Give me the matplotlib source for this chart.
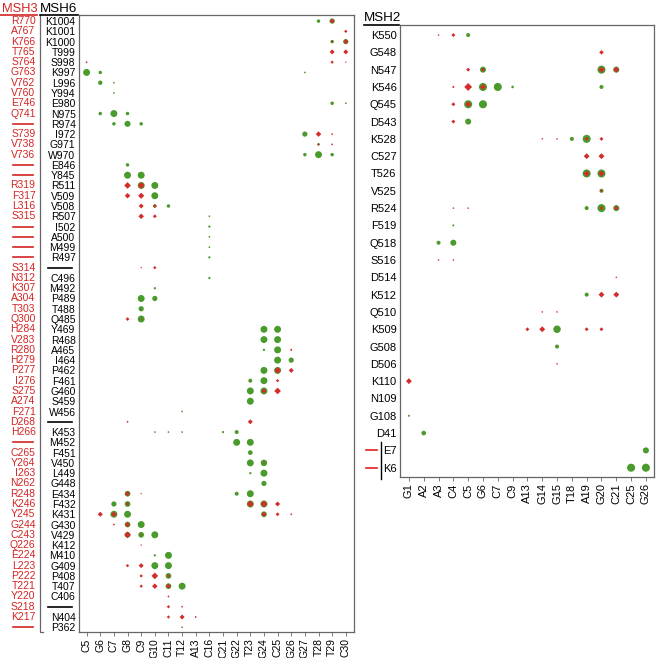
import numpy as np
import matplotlib.pyplot as plt
import matplotlib.transforms as mtransforms

plt.rcParams['font.family'] = ['Liberation Sans', 'DejaVu Sans']

# left panel: MSH6 residues (black) and matching MSH3 residues (red); '—' = no residue
msh6_labels = ['K1004', 'K1001', 'K1000', 'T999', 'S998', 'K997', 'L996', 'Y994', 'E980', 'N975',
               'R974', 'I972', 'G971', 'W970', 'E846', 'Y845', 'R511', 'V509', 'V508', 'R507',
               'I502', 'A500', 'M499', 'R497', '—', 'C496', 'M492', 'P489', 'T488', 'Q485',
               'Y469', 'R468', 'A465', 'I464', 'P462', 'F461', 'G460', 'S459', 'W456', '—',
               'K453', 'M452', 'F451', 'V450', 'L449', 'G448', 'E434', 'F432', 'K431', 'G430',
               'V429', 'K412', 'M410', 'G409', 'P408', 'T407', 'C406', '—', 'N404', 'P362']
msh3_labels = ['R770', 'A767', 'K766', 'T765', 'S764', 'G763', 'V762', 'V760', 'E746', 'Q741',
               '—', 'S739', 'V738', 'V736', '—', '—', 'R319', 'F317', 'L316', 'S315',
               '—', '—', '—', '—', 'S314', 'N312', 'K307', 'A304', 'T303', 'Q300',
               'H284', 'V283', 'R280', 'H279', 'P277', 'I276', 'S275', 'A274', 'F271', 'D268',
               'H266', '—', 'C265', 'Y264', 'I263', 'N262', 'R248', 'K246', 'Y245', 'G244',
               'C243', 'Q226', 'E224', 'L223', 'P222', 'T221', 'Y220', 'S218', 'K217', '—']
left_cols = ['C5', 'G6', 'C7', 'G8', 'C9', 'G10', 'C11', 'T12', 'A13', 'C16',
             'C21', 'G22', 'T23', 'G24', 'C25', 'G26', 'G27', 'T28', 'T29', 'C30']

# (row from top, column, size level 1-4)
left_green = [
    (1, 'T28', 2), (1, 'T29', 3), (3, 'T29', 2), (3, 'C30', 3),
    (6, 'C5', 4), (6, 'G6', 2), (6, 'G27', 1), (7, 'G6', 2.5), (7, 'C7', 1), (8, 'C7', 1),
    (9, 'T29', 2), (9, 'C30', 1), (10, 'G6', 2), (10, 'C7', 4), (10, 'G8', 2),
    (11, 'C7', 2), (11, 'G8', 3.5), (11, 'C9', 2), (12, 'G27', 3), (13, 'T28', 1.5),
    (14, 'G27', 2), (14, 'T28', 4), (14, 'T29', 2), (15, 'G8', 2), (16, 'G8', 4), (16, 'C9', 4),
    (17, 'C9', 4), (17, 'G10', 4), (18, 'G10', 4), (19, 'G10', 2), (19, 'C11', 2),
    (20, 'C16', 1), (21, 'C16', 1.3), (22, 'C16', 1), (23, 'C16', 1), (24, 'C16', 1.3), (26, 'C16', 1.3),
    (27, 'G10', 1.3), (28, 'C9', 4), (28, 'G10', 3), (29, 'C9', 3), (30, 'C9', 4),
    (31, 'G24', 4), (31, 'C25', 4), (32, 'G24', 4), (32, 'C25', 4), (33, 'G24', 1.3), (33, 'C25', 4),
    (34, 'C25', 4), (34, 'G26', 3), (35, 'G24', 4), (35, 'C25', 4), (36, 'T23', 2.3), (36, 'G24', 4),
    (37, 'T23', 4), (37, 'G24', 4), (38, 'T23', 4), (39, 'T12', 1),
    (41, 'G10', 1), (41, 'C11', 1), (41, 'T12', 1), (41, 'C21', 1.3), (41, 'G22', 2.3),
    (42, 'G22', 4), (42, 'T23', 4), (43, 'T23', 2.7), (44, 'T23', 4), (44, 'G24', 3.7),
    (45, 'T23', 1.3), (45, 'G24', 4), (46, 'G24', 3),
    (47, 'G8', 3.3), (47, 'G22', 2.3), (47, 'T23', 4),
    (48, 'C7', 3), (48, 'G8', 3.3), (48, 'T23', 4), (48, 'G24', 4),
    (49, 'C7', 4), (49, 'G8', 4), (49, 'G24', 3.3), (50, 'G8', 3.3), (50, 'C9', 4),
    (51, 'G8', 3.3), (51, 'C9', 3.3), (51, 'G10', 4), (53, 'G10', 1.3), (53, 'C11', 4),
    (54, 'G10', 4), (54, 'C11', 4), (55, 'C11', 3.3), (56, 'C11', 3.3), (56, 'T12', 4),
    (60, 'T12', 1),
]
left_red = [
    (1, 'T29', 3), (2, 'C30', 2), (3, 'T29', 1.5), (3, 'C30', 3), (4, 'T29', 3), (4, 'C30', 3),
    (5, 'C5', 1.3), (5, 'T29', 2), (5, 'C30', 1), (12, 'T28', 3.3), (12, 'T29', 1.3),
    (13, 'T28', 1.5), (13, 'T29', 1.3), (17, 'G8', 4), (17, 'C9', 4), (18, 'G8', 3.3), (18, 'C9', 3.7),
    (19, 'C9', 3), (19, 'G10', 2.3), (20, 'C9', 3.3), (20, 'G10', 2.3), (25, 'C9', 1), (25, 'G10', 2),
    (30, 'G8', 2.3), (30, 'C9', 1), (33, 'G26', 1.5), (35, 'C25', 4), (35, 'G26', 3),
    (36, 'C25', 2), (37, 'G24', 3), (37, 'C25', 4), (40, 'G8', 1.3), (40, 'T23', 3),
    (44, 'G24', 1), (47, 'G8', 3), (47, 'C9', 1), (48, 'G8', 2), (48, 'T23', 4), (48, 'G24', 4),
    (48, 'C25', 3), (49, 'G6', 3), (49, 'C7', 3.3), (49, 'G24', 3), (49, 'C25', 2.3), (49, 'G26', 1.3),
    (50, 'C7', 1.3), (50, 'G8', 3), (51, 'G8', 4), (51, 'C9', 1), (52, 'C9', 1),
    (54, 'G8', 2), (54, 'C9', 3), (55, 'C9', 2), (55, 'G10', 4), (55, 'C11', 2),
    (56, 'C9', 2), (56, 'G10', 3.3), (56, 'C11', 3), (57, 'C11', 1.3), (58, 'C11', 2), (58, 'T12', 1.3),
    (59, 'C11', 2), (59, 'T12', 3), (59, 'A13', 1.3),
]

# right panel: MSH2
msh2_labels = ['K550', 'G548', 'N547', 'K546', 'Q545', 'D543', 'K528', 'C527', 'T526', 'V525',
               'R524', 'F519', 'Q518', 'S516', 'D514', 'K512', 'Q510', 'K509', 'G508', 'D506',
               'K110', 'N109', 'G108', 'D41', 'E7', 'K6']
right_cols = ['G1', 'A2', 'A3', 'C4', 'C5', 'G6', 'C7', 'C9', 'A13', 'G14',
              'G15', 'T18', 'A19', 'G20', 'C21', 'C25', 'G26']
right_green = [
    (1, 'C5', 2), (3, 'G6', 3), (3, 'G20', 4), (3, 'C21', 3),
    (4, 'G6', 4), (4, 'C7', 4), (4, 'C9', 1.3), (4, 'G20', 2), (5, 'C5', 4), (5, 'G6', 4),
    (6, 'C5', 3), (7, 'T18', 2), (7, 'A19', 4), (9, 'A19', 4), (9, 'G20', 4), (10, 'G20', 2),
    (11, 'A19', 2), (11, 'G20', 4), (11, 'C21', 3), (12, 'C4', 1), (13, 'A3', 2), (13, 'C4', 3),
    (16, 'A19', 2), (18, 'G15', 3.7), (19, 'G15', 2), (23, 'G1', 1), (24, 'A2', 2.3),
    (25, 'G26', 3), (26, 'C25', 4), (26, 'G26', 4),
]
right_red = [
    (1, 'A3', 1), (1, 'C4', 2), (2, 'G20', 2.3), (3, 'C5', 2), (3, 'G6', 2), (3, 'G20', 3), (3, 'C21', 3),
    (4, 'C4', 1.3), (4, 'C5', 4), (4, 'G6', 3), (5, 'C4', 2), (5, 'C5', 3), (6, 'C4', 2),
    (7, 'G14', 1), (7, 'G15', 1), (7, 'A19', 2), (7, 'G20', 2), (8, 'A19', 3), (8, 'G20', 3),
    (9, 'A19', 3), (9, 'G20', 3), (10, 'G20', 1.5), (11, 'C4', 1), (11, 'C5', 1),
    (11, 'G20', 2), (11, 'C21', 2.3), (14, 'A3', 1), (14, 'C4', 1), (15, 'C21', 1),
    (16, 'G20', 3), (16, 'C21', 3), (17, 'G14', 1), (17, 'G15', 1),
    (18, 'A13', 2), (18, 'G14', 3), (18, 'A19', 2), (18, 'G20', 2), (20, 'G15', 1), (21, 'G1', 3),
]

GREEN = '#4a9a2c'
RED = '#d42b2b'
LABEL_RED = '#d42424'
SPINE = '#666666'


def draw_points(ax, cols, points, color, marker, base):
    x = [cols.index(c) for r, c, lev in points]
    y = [r - 1 for r, c, lev in points]
    s = [(base * lev) ** 2 for r, c, lev in points]
    ax.scatter(x, y, s=s, c=color, marker=marker, linewidths=0, zorder=3 if marker == 'o' else 4)


def style_axes(ax, cols, labels, fs):
    ax.set_xticks(range(len(cols)))
    ax.set_xticklabels(cols, rotation=90, fontsize=fs)
    ax.set_yticks(range(len(labels)))
    ax.set_yticklabels(['' if l == '—' else l for l in labels], fontsize=fs)
    ax.tick_params(axis='y', length=0, pad=2.5)
    ax.tick_params(axis='x', length=3, width=0.6, color=SPINE, pad=1.5)
    for sp in ax.spines.values():
        sp.set_color(SPINE)
        sp.set_linewidth(0.9)


fig = plt.figure(figsize=(6.56, 6.58), dpi=100)

# ---- left panel ----
ax1 = fig.add_axes([0.1204, 0.0395, 0.4192, 0.938])
draw_points(ax1, left_cols, left_green, GREEN, 'o', 1.25)
draw_points(ax1, left_cols, left_red, RED, 'D', 0.85)
ax1.set_xlim(-0.56, len(left_cols) - 1 + 0.6)
ax1.set_ylim(len(msh6_labels) - 1 + 0.46, -0.61)
style_axes(ax1, left_cols, msh6_labels, 7.5)

tr1 = mtransforms.blended_transform_factory(ax1.transAxes, ax1.transData)
for i, (l6, l3) in enumerate(zip(msh6_labels, msh3_labels)):
    if l6 == '—':
        ax1.plot([-0.113, -0.025], [i, i], color='black', lw=1.2, transform=tr1, clip_on=False)
    if l3 == '—':
        ax1.plot([-0.24, -0.167], [i, i], color=LABEL_RED, lw=1.2, transform=tr1, clip_on=False)
    else:
        ax1.text(-0.158, i, l3, color=LABEL_RED, fontsize=7.5, ha='right', va='center', transform=tr1)

# bracket between the two label columns
ax1.plot([-0.142, -0.142, -0.13], [1.0, 0.0, 0.0], color=SPINE, lw=0.9,
         transform=ax1.transAxes, clip_on=False)
ax1.text(-0.151, 1.004, 'MSH3', color=LABEL_RED, fontsize=9.3, ha='right', va='baseline',
         transform=ax1.transAxes)
ax1.plot([-0.287, -0.152], [1.0, 1.0], color=LABEL_RED, lw=1.2, transform=ax1.transAxes, clip_on=False)
ax1.text(-0.073, 1.004, 'MSH6', color='black', fontsize=9.6, ha='center', va='baseline',
         transform=ax1.transAxes)
ax1.plot([-0.142, -0.004], [1.0, 1.0], color='black', lw=1.2, transform=ax1.transAxes, clip_on=False)

# ---- right panel ----
ax2 = fig.add_axes([0.6098, 0.275, 0.387, 0.687])
draw_points(ax2, right_cols, right_green, GREEN, 'o', 1.45)
draw_points(ax2, right_cols, right_red, RED, 'D', 1.0)
ax2.set_xlim(-0.6, len(right_cols) - 1 + 0.54)
ax2.set_ylim(len(msh2_labels) - 1 + 0.54, -0.58)
style_axes(ax2, right_cols, msh2_labels, 8)

tr2 = mtransforms.blended_transform_factory(ax2.transAxes, ax2.transData)
n2 = len(msh2_labels)
for i in (n2 - 2, n2 - 1):
    ax2.plot([-0.134, -0.091], [i, i], color='#e02020', lw=1.2, transform=tr2, clip_on=False)
ax2.plot([-0.075, -0.075], [n2 - 2.5, n2 - 1 + 0.65], color='black', lw=1.0,
         transform=tr2, clip_on=False)
ax2.text(-0.069, 1.008, 'MSH2', color='black', fontsize=9.6, ha='center', va='baseline',
         transform=ax2.transAxes)
ax2.plot([-0.142, -0.004], [1.0, 1.0], color='black', lw=1.2, transform=ax2.transAxes, clip_on=False)

fig.savefig('out.png', dpi=100, facecolor='white')
